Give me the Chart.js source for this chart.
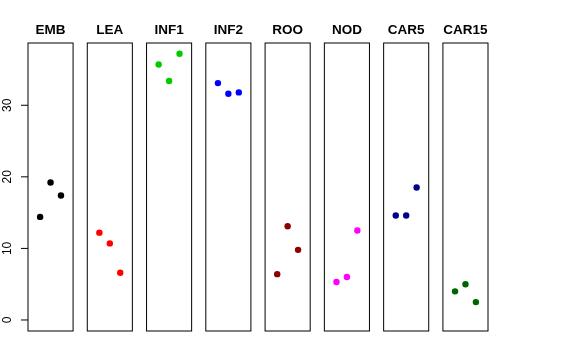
<!DOCTYPE html>
<html>
<head>
<meta charset="utf-8">
<script src="https://cdn.jsdelivr.net/npm/chart.js@4/dist/chart.umd.min.js"></script>
<style>
  html, body { margin: 0; padding: 0; background: #fff; }
  #wrap { width: 576px; height: 360px; }
</style>
</head>
<body>
<div id="wrap"><canvas id="chart" width="576" height="360"></canvas></div>
<script>
// Panel names and colours
const groups = ['EMB', 'LEA', 'INF1', 'INF2', 'ROO', 'NOD', 'CAR5', 'CAR15'];
const colors = ['#000000', '#ff0000', '#00cd00', '#0000ff', '#8b0000', '#ff00ff', '#00008b', '#006400'];

// Three replicate values per panel
const embVals = [14.4, 19.2, 17.4];
const leaVals = [12.2, 10.7, 6.6];
const inf1Vals = [35.7, 33.4, 37.2];
const inf2Vals = [33.1, 31.6, 31.8];
const rooVals = [6.4, 13.1, 9.8];
const nodVals = [5.3, 6.0, 12.5];
const car5Vals = [14.6, 14.6, 18.5];
const car15Vals = [4.0, 5.0, 2.5];
const allVals = [embVals, leaVals, inf1Vals, inf2Vals, rooVals, nodVals, car5Vals, car15Vals];

const yTicks = [0, 10, 20, 30];

// Panel layout in x units: each panel spans -0.16..4.16, points at 1,2,3
const panelMin = -0.16;
const panelMax = 4.16;
const step = 5.68;

const datasets = groups.map((g, i) => ({
  label: g,
  data: allVals[i].map((v, j) => ({ x: i * step + j + 1, y: v })),
  backgroundColor: colors[i],
  borderColor: colors[i],
  pointRadius: 3.2,
  pointHoverRadius: 3.2,
  borderWidth: 0
}));

// Draw panel boxes, titles and the left y axis from the chart scales
const panelsPlugin = {
  id: 'panels',
  afterDatasetsDraw(chart) {
    const ctx = chart.ctx;
    const xs = chart.scales.x;
    const ys = chart.scales.y;
    const top = chart.chartArea.top;
    const bottom = chart.chartArea.bottom;
    ctx.save();
    ctx.strokeStyle = '#000';
    ctx.lineWidth = 1;
    ctx.fillStyle = '#000';
    ctx.font = 'bold 13.5px "Liberation Sans", Arial, sans-serif';
    ctx.textAlign = 'center';
    ctx.textBaseline = 'alphabetic';
    groups.forEach((g, i) => {
      const l = xs.getPixelForValue(i * step + panelMin);
      const r = xs.getPixelForValue(i * step + panelMax);
      ctx.strokeRect(l, top, r - l, bottom - top);
      ctx.fillText(g, (l + r) / 2, 34);
    });

    // y axis ticks and rotated labels
    const axisX = xs.getPixelForValue(panelMin);
    ctx.font = '12px "Liberation Sans", Arial, sans-serif';
    ctx.textBaseline = 'middle';
    yTicks.forEach(t => {
      const py = ys.getPixelForValue(t);
      ctx.beginPath();
      ctx.moveTo(axisX - 7, py);
      ctx.lineTo(axisX, py);
      ctx.stroke();
      ctx.save();
      ctx.translate(8, py);
      ctx.rotate(-Math.PI / 2);
      ctx.fillText(String(t), 0, 0);
      ctx.restore();
    });
    ctx.restore();
  }
};

new Chart(document.getElementById('chart'), {
  type: 'scatter',
  data: { datasets: datasets },
  options: {
    responsive: false,
    animation: false,
    devicePixelRatio: 1,
    layout: { padding: { left: 28, top: 43, right: 88, bottom: 29 } },
    plugins: {
      legend: { display: false },
      tooltip: { enabled: false }
    },
    scales: {
      x: { type: 'linear', min: panelMin, max: 7 * step + panelMax, display: false },
      y: { type: 'linear', min: -1.54, max: 38.7, display: false }
    }
  },
  plugins: [panelsPlugin]
});
</script>
</body>
</html>
